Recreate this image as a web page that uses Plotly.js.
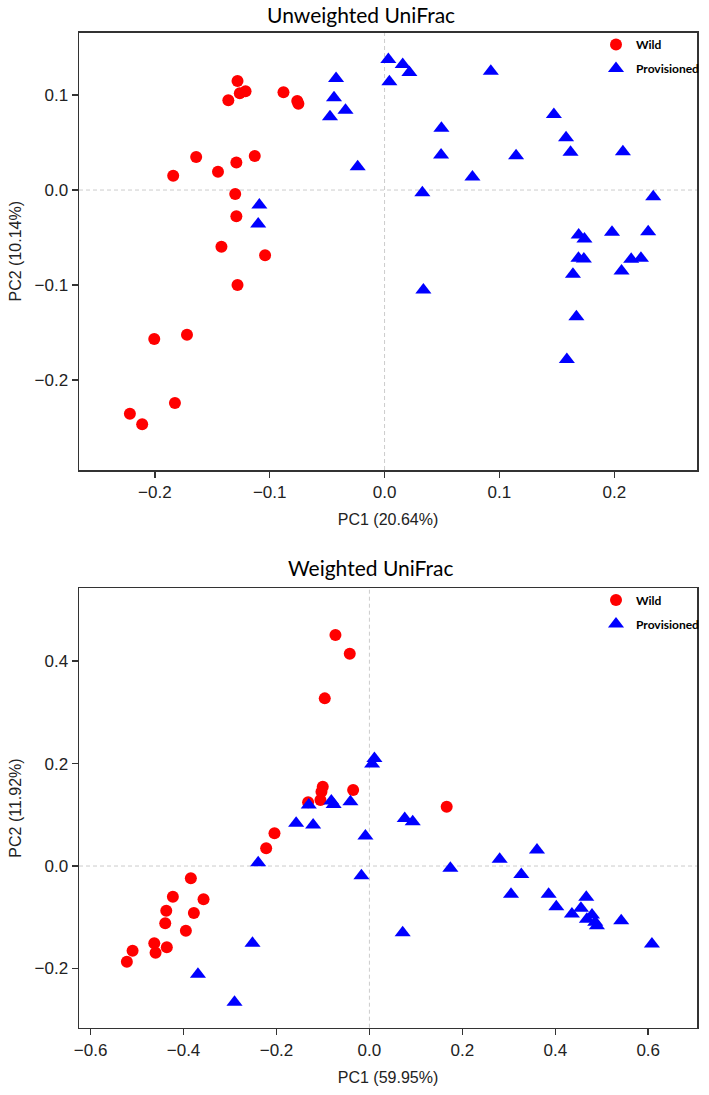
<!DOCTYPE html>
<html>
<head>
<meta charset="utf-8">
<script src="https://cdn.plot.ly/plotly-3.0.1.min.js"></script>
<style>html,body{margin:0;padding:0;background:#fff;}#chart{width:709px;height:1095px;}</style>
</head>
<body>
<div id="chart"></div>
<script>
// ---- Unweighted UniFrac ----
const unwWildPC1 = [-0.128,-0.136,-0.126,-0.121,-0.088,-0.076,-0.075,-0.184,-0.164,-0.145,-0.129,-0.113,-0.130,-0.129,-0.142,-0.104,-0.128,-0.2005,-0.172,-0.1825,-0.2217,-0.211];
const unwWildPC2 = [0.115,0.0947,0.102,0.104,0.103,0.0937,0.091,0.015,0.0347,0.0193,0.029,0.0358,-0.0042,-0.0277,-0.0597,-0.0687,-0.100,-0.157,-0.1526,-0.2245,-0.2358,-0.2467];
const unwProvPC1 = [-0.0422,-0.044,-0.034,-0.0475,-0.0234,-0.109,-0.110,0.0033,0.0042,0.0158,0.0216,0.0925,0.0495,0.0492,0.0765,0.0329,0.1145,0.1474,0.158,0.1619,0.2075,0.2339,0.169,0.174,0.198,0.2295,0.1688,0.1735,0.2147,0.2232,0.2063,0.164,0.0338,0.167,0.1587];
const unwProvPC2 = [0.1176,0.0972,0.0842,0.0772,0.0245,-0.0158,-0.0358,0.1376,0.114,0.1323,0.1239,0.1253,0.065,0.0368,0.0137,-0.0028,0.0361,0.0797,0.0551,0.0397,0.0403,-0.0071,-0.0474,-0.0516,-0.0445,-0.0439,-0.0719,-0.0726,-0.073,-0.0719,-0.0853,-0.0888,-0.1053,-0.1334,-0.1786];

// ---- Weighted UniFrac ----
const wWildPC1 = [-0.0731,-0.0423,-0.0961,-0.1004,-0.1032,-0.1054,-0.1319,-0.035,-0.2043,-0.2222,-0.3843,-0.423,-0.357,-0.4372,-0.3778,-0.4394,-0.395,-0.463,-0.436,-0.4602,-0.5097,-0.522,0.1663];
const wWildPC2 = [0.4507,0.4142,0.3272,0.1547,0.145,0.1288,0.1243,0.1483,0.0638,0.0345,-0.024,-0.0599,-0.065,-0.0872,-0.0917,-0.1118,-0.1262,-0.1509,-0.1587,-0.1691,-0.1652,-0.1867,0.1158];
const wProvPC1 = [0.0108,0.0058,-0.1305,-0.082,-0.077,-0.0409,-0.1577,-0.1211,-0.0086,-0.2394,-0.0172,-0.2516,-0.369,-0.2903,0.076,0.0932,0.1742,0.2803,0.3606,0.3269,0.3047,0.3857,0.4022,0.4358,0.4667,0.4552,0.479,0.468,0.486,0.4896,0.5419,0.608,0.0716];
const wProvPC2 = [0.210,0.199,0.119,0.127,0.120,0.1255,0.0833,0.080,0.0585,0.0064,-0.019,-0.1509,-0.2114,-0.266,0.093,0.0865,-0.0045,0.013,0.0312,-0.0163,-0.0553,-0.0553,-0.0794,-0.0937,-0.0611,-0.0826,-0.0956,-0.104,-0.1099,-0.1165,-0.1067,-0.152,-0.130];

const groupNames = ["Wild", "Provisioned"];
const titles = ["Unweighted UniFrac", "Weighted UniFrac"];
const xTitles = ["PC1 (20.64%)", "PC1 (59.95%)"];
const yTitles = ["PC2 (10.14%)", "PC2 (11.92%)"];

const RED = "#ff0000", BLUE = "#0000ff";
const wildMarker = {symbol: "circle", size: 12, color: RED};
const provMarker = {symbol: "triangle-up", size: 14, color: BLUE};

const traces = [
  {x: unwWildPC1, y: unwWildPC2, type: "scatter", mode: "markers", name: groupNames[0], marker: wildMarker, xaxis: "x", yaxis: "y", legend: "legend", legendgroup: "a"},
  {x: unwProvPC1, y: unwProvPC2, type: "scatter", mode: "markers", name: groupNames[1], marker: provMarker, xaxis: "x", yaxis: "y", legend: "legend", legendgroup: "b"},
  {x: wWildPC1, y: wWildPC2, type: "scatter", mode: "markers", name: groupNames[0], marker: wildMarker, xaxis: "x2", yaxis: "y2", legend: "legend2", legendgroup: "c"},
  {x: wProvPC1, y: wProvPC2, type: "scatter", mode: "markers", name: groupNames[1], marker: provMarker, xaxis: "x2", yaxis: "y2", legend: "legend2", legendgroup: "d"}
];

const H = 1095;
const tickFont = {family: "'Liberation Sans', Arial, sans-serif", size: 17, color: "#222"};
const axTitleFont = {family: "'Liberation Sans', Arial, sans-serif", size: 16, color: "#222"};
function axis(extra) {
  return Object.assign({
    showgrid: false, zeroline: false, showline: true, mirror: true,
    linecolor: "#333", linewidth: 1.5, ticks: "outside", ticklen: 6, tickwidth: 1.5,
    tickcolor: "#333", tickfont: tickFont, tickformat: ".1f"
  }, extra);
}
const legendBase = {
  xanchor: "left", yanchor: "top", bgcolor: "rgba(0,0,0,0)", borderwidth: 0,
  font: {family: "Lato, sans-serif", size: 12, weight: "bold", color: "#000"},
  traceorder: "grouped", tracegroupgap: 5, itemsizing: "trace"
};

const zeroLine = {color: "#cccccc", width: 1, dash: "4px,3px"};
const layout = {
  width: 709, height: H,
  margin: {l: 79, r: 12, t: 0, b: 0},
  paper_bgcolor: "#fff", plot_bgcolor: "#fff",
  showlegend: true,
  xaxis: axis({domain: [0, 1], anchor: "y", range: [-0.266, 0.272], dtick: 0.1, tick0: 0,
    title: {text: xTitles[0], font: axTitleFont, standoff: 13}}),
  yaxis: axis({domain: [1 - 470 / H, 1 - 32.5 / H], anchor: "x", range: [-0.295, 0.166], dtick: 0.1, tick0: 0,
    title: {text: yTitles[0], font: axTitleFont, standoff: 9}}),
  xaxis2: axis({domain: [0, 1], anchor: "y2", range: [-0.625, 0.705], dtick: 0.2, tick0: 0,
    title: {text: xTitles[1], font: axTitleFont, standoff: 13}}),
  yaxis2: axis({domain: [1 - 1027.7 / H, 1 - 588.3 / H], anchor: "x2", range: [-0.3155, 0.542], dtick: 0.2, tick0: 0,
    title: {text: yTitles[1], font: axTitleFont, standoff: 9}}),
  legend: Object.assign({}, legendBase, {x: (596 - 79) / 618, y: 1 - 30 / H}),
  legend2: Object.assign({}, legendBase, {x: (596 - 79) / 618, y: 1 - 585.5 / H}),
  shapes: [
    {type: "line", xref: "x", yref: "y domain", x0: 0, x1: 0, y0: 0, y1: 1, line: zeroLine, layer: "below"},
    {type: "line", xref: "x domain", yref: "y", x0: 0, x1: 1, y0: 0, y1: 0, line: zeroLine, layer: "below"},
    {type: "line", xref: "x2", yref: "y2 domain", x0: 0, x1: 0, y0: 0, y1: 1, line: zeroLine, layer: "below"},
    {type: "line", xref: "x2 domain", yref: "y2", x0: 0, x1: 1, y0: 0, y1: 0, line: zeroLine, layer: "below"}
  ],
  annotations: [
    {text: titles[0], xref: "paper", yref: "paper", x: (361 - 79) / 618, y: 1 - 14.5 / H, xanchor: "center", yanchor: "middle",
     showarrow: false, font: {family: "Lato, sans-serif", size: 21, color: "#000"}},
    {text: titles[1], xref: "paper", yref: "paper", x: (371 - 79) / 618, y: 1 - 567 / H, xanchor: "center", yanchor: "middle",
     showarrow: false, font: {family: "Lato, sans-serif", size: 21, color: "#000"}}
  ]
};

Plotly.newPlot("chart", traces, layout, {staticPlot: true, displayModeBar: false});
</script>
</body>
</html>
